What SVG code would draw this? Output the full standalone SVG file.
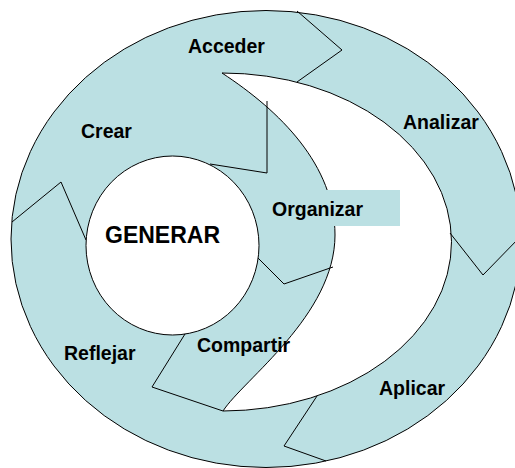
<svg xmlns="http://www.w3.org/2000/svg" width="515" height="468" viewBox="0 0 515 468">
  <style>
    .teal { fill: #BBE0E3; stroke: #000; stroke-width: 1; }
    .white { fill: #FFFFFF; stroke: #000; stroke-width: 1; }
    .sep { fill: none; stroke: #000; stroke-width: 1; stroke-linejoin: miter; }
    .lbl { font-family: "Liberation Sans", Arial, Helvetica, sans-serif; font-weight: bold; font-size: 19.5px; fill: #000; }
    .big { font-size: 23px; }
  </style>
  <rect x="0" y="0" width="515" height="468" fill="#FFFFFF"/>
  <g id="ring">
    <ellipse class="teal" cx="266" cy="239" rx="255" ry="228.5"/>
    <path id="crescent" class="white" d="M 222,73 A 229 169 0 0 1 223,411 C 243,380 335,315 335,235 C 335,165 280,111 222,73 Z"/>
  </g>
  <g id="connectors">
    <polyline class="sep" points="297,11 342,50 297,82"/>
    <polyline class="sep" points="450,233 483,275 521,236"/>
    <polyline class="sep" points="317,396 284,446 326,461"/>
    <polyline class="sep" points="223,411 152,387 185,334"/>
    <polyline class="sep" points="12,222 61,182 86,240"/>
    <polyline class="sep" points="267,101 267,173 210,164"/>
    <polyline class="sep" points="258,258 284,284 333,267"/>
  </g>
  <g id="generar">
    <ellipse class="white" cx="172.5" cy="245.5" rx="86.5" ry="89.5"/>
    <text class="lbl big" x="105" y="243">GENERAR</text>
  </g>
  <g id="acceder"><text class="lbl" x="188" y="53">Acceder</text></g>
  <g id="analizar"><text class="lbl" x="403" y="129">Analizar</text></g>
  <g id="aplicar"><text class="lbl" x="379" y="395">Aplicar</text></g>
  <g id="reflejar"><text class="lbl" x="64" y="360">Reflejar</text></g>
  <g id="crear"><text class="lbl" x="81" y="138">Crear</text></g>
  <g id="organizar">
    <rect x="262" y="190" width="138" height="36" fill="#BBE0E3"/>
    <text class="lbl" x="272" y="216">Organizar</text>
  </g>
  <g id="compartir"><text class="lbl" x="197" y="352">Compartir</text></g>
</svg>
